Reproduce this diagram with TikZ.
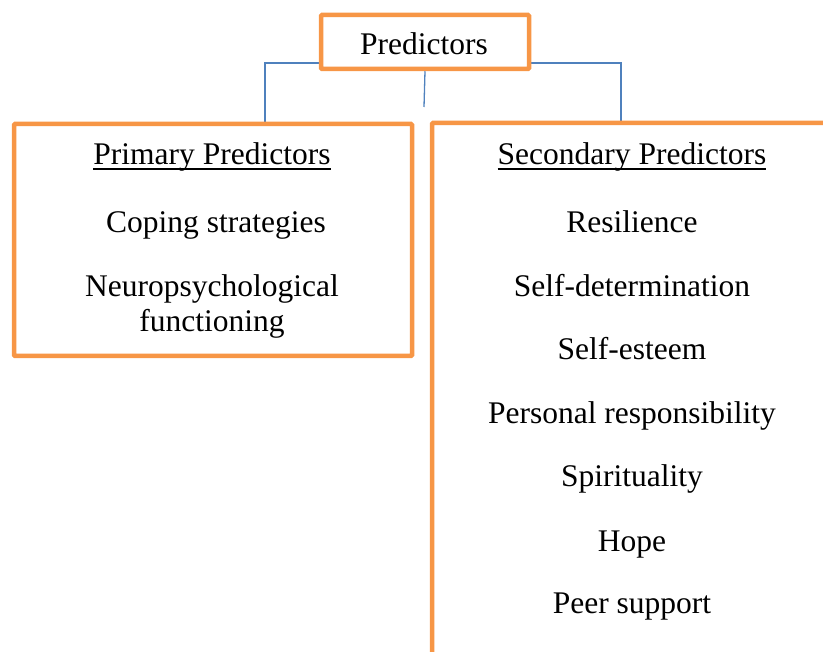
\documentclass[tikz,border=0pt]{standalone}
\usepackage{fontspec}
\setmainfont{Liberation Serif}
\usetikzlibrary{calc}

\definecolor{boxorange}{HTML}{F79646}
\definecolor{linkblue}{HTML}{4F81BD}

% heading with a heavier underline
\newcommand{\headline}[1]{\setbox0\hbox{#1}\rlap{\rule[-5.5pt]{\wd0}{2.2pt}}\box0}

\tikzset{
	box/.style = {draw = boxorange, line width = 4.5pt, fill = white, rounded corners = 1pt, inner sep = 0pt},
	link/.style = {draw = linkblue, line width = 1.3pt},
	label/.style = {anchor = base, inner sep = 0pt, font = \fontsize{31.5}{38}\selectfont}
}

\begin{document}
\begin{tikzpicture}[x = 1pt, y = -1pt]
	\useasboundingbox (0,0) rectangle (823,652);
	\clip (0,0) rectangle (823,652);
	% bus lines behind the boxes
	\coordinate (bus) at (0,63);
	\coordinate (lx) at (265,0); \coordinate (rx) at (621,0);
	\draw[link] (lx |- 0,124) -- (lx |- bus) -- (rx |- bus) -- (rx |- 0,124);
	% boxes
	\node[box, minimum width = 208pt, minimum height = 54pt] (top) at (425,42) {};
	\node[box, minimum width = 398pt, minimum height = 232pt] (primary) at (213,240) {};
	\node[box, minimum width = 500pt, minimum height = 600pt] (secondary) at (682,423) {};
	\draw[link] (top.south) -- (424,107);
	% texts
	\node[label] (toptext) at (424,55) {Predictors};
	\node[label] (primtitle) at (212,165) {\headline{Primary Predictors}};
	\node[label] (coping) at (216,233) {Coping strategies};
	\node[label] (neuro) at (212,297) {Neuropsychological};
	\node[label] (func) at (212,332) {functioning};
	\node[label] (sectitle) at (632,165) {\headline{Secondary Predictors}};
	\foreach \t/\y [count = \i] in {Resilience/233, Self-determination/297, Self-esteem/360,
		Personal responsibility/424, Spirituality/487, Hope/551, Peer support/613}
		\node[label] (sec\i) at (632,\y) {\t};
\end{tikzpicture}
\end{document}
